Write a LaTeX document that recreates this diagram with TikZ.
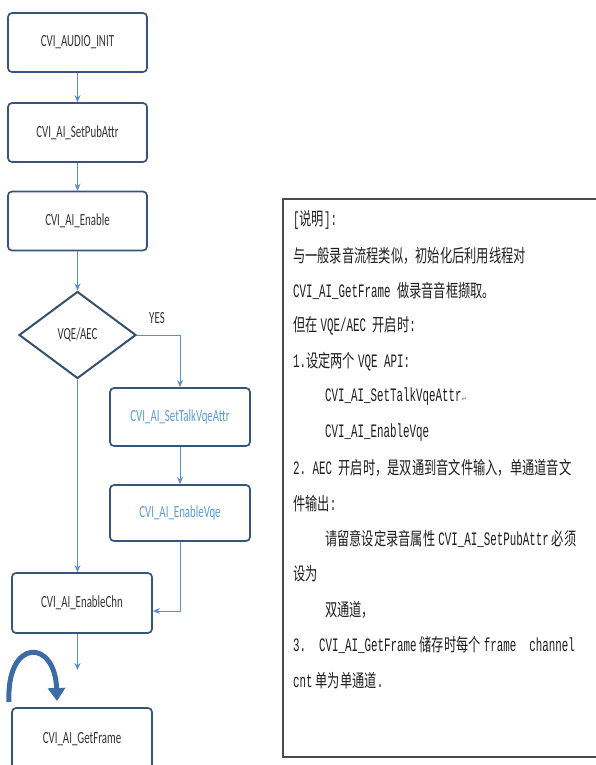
\documentclass[tikz,border=0pt]{standalone}
\usepackage{fontspec}
\setmainfont[FakeStretch=0.64]{Carlito}
\newfontfamily\cjkf[FakeStretch=0.68]{Noto Sans CJK SC}
\newfontfamily\monof[FakeStretch=0.57]{Liberation Mono}
\newfontfamily\symf{DejaVu Sans}
\usetikzlibrary{shapes.geometric,arrows.meta}
\newcommand\zhs[1]{{\cjkf\fontsize{18}{22}\selectfont #1}}
\newcommand\msp{\hspace{6.5pt}}
\newcommand\hsp{\hspace{3pt}}
\definecolor{boxline}{HTML}{36557C}
\definecolor{dialine}{HTML}{34506E}
\definecolor{arrowc}{HTML}{5B8FCB}
\definecolor{txt}{HTML}{333333}
\definecolor{bluetxt}{HTML}{5B9BD5}
\definecolor{loopc}{HTML}{3D6BA5}
\definecolor{tcol}{HTML}{1E1E1E}
\definecolor{tboxline}{HTML}{4A4A4A}
\tikzset{
  fbox/.style={draw=boxline, line width=1.7pt, rounded corners=4pt, minimum width=139pt, minimum height=59pt, inner sep=0pt, font=\fontsize{17}{20}\selectfont, text=txt},
  dia/.style={diamond, draw=dialine, line width=2pt, minimum width=117pt, minimum height=87pt, inner sep=0pt, font=\fontsize{17}{20}\selectfont, text=txt},
  arr/.style={draw=arrowc, line width=0.9pt, -{Stealth[length=7pt,width=6pt]}},
  loopar/.style={draw=loopc, line width=5pt, -{Triangle[length=13pt,width=17pt]}},
  tl/.style={anchor=west, inner sep=0pt, font=\monof\fontsize{19}{22}\selectfont, text=tcol},
  lbl/.style={inner sep=0pt, font=\fontsize{17}{20}\selectfont, text=txt}
}
\begin{document}
\begin{tikzpicture}[x=1pt,y=-1pt]
\useasboundingbox (0,0) rectangle (595,765);
% flowchart
\node[fbox] (init) at (77.5,42.5) {CVI\_AUDIO\_INIT};
\node[fbox] (pub) at (77.5,132.5) {CVI\_AI\_SetPubAttr};
\node[fbox] (en) at (77.5,221) {CVI\_AI\_Enable};
\node[dia] (dia) at (77.5,335) {VQE/AEC};
\node[fbox, text=bluetxt, minimum width=140pt, minimum height=58pt] (talk) at (180,417) {CVI\_AI\_SetTalkVqeAttr};
\node[fbox, text=bluetxt, minimum width=140pt, minimum height=56pt] (evqe) at (180,513) {CVI\_AI\_EnableVqe};
\node[fbox, minimum width=140pt, minimum height=60pt] (chn) at (82,603) {CVI\_AI\_EnableChn};
\node[fbox, minimum width=140pt, minimum height=62pt] (gf) at (82,739) {CVI\_AI\_GetFrame};
\node[lbl] (yes) at (157,318) {YES};
\draw[arr] (init) -- (pub);
\draw[arr] (pub) -- (en);
\draw[arr] (en) -- (dia);
\draw[arr] (dia.east) -| (talk.north);
\draw[arr] (talk) -- (evqe);
\draw[arr] (evqe.south) |- ([yshift=-8pt]chn.east);
\draw[arr] (dia.south) -- (dia.south |- chn.north);
\coordinate (ae) at (77.5,670);
\draw[arr] (ae |- chn.south) -- (ae);
\coordinate (cs) at (9,702);
\coordinate (ce) at (57,701);
\draw[loopar] (cs) .. controls (6,638) and (55,638) .. (ce);
% text box
\coordinate (tb1) at (283,199);
\coordinate (tb2) at (610,757);
\draw[draw=tboxline, line width=1.6pt] (tb1) rectangle (tb2);
\node[tl] (l0) at (293,220) {[\zhs{说明}]:};
\node[tl] (l1) at (293,255.4) {\zhs{与一般录音流程类似，初始化后利用线程对}};
\node[tl] (l2) at (293,290.8) {CVI\_AI\_GetFrame\msp\zhs{做录音音框撷取。}};
\node[tl] (l3) at (293,326.2) {\zhs{但在}\hsp VQE/AEC\msp\zhs{开启时}:};
\node[tl] (l4) at (293,361.6) {1.\zhs{设定两个}\hsp VQE\msp API:};
\node[tl] (l5) at (325,397) {CVI\_AI\_SetTalkVqeAttr{\symf\fontsize{7}{8}\selectfont\color{gray}↵}};
\node[tl] (l6) at (325,432.4) {CVI\_AI\_EnableVqe};
\node[tl] (l7) at (293,467.8) {2.\msp AEC\msp\zhs{开启时，是双通到音文件输入，单通道音文}};
\node[tl] (l8) at (293,503.2) {\zhs{件输出}:};
\node[tl] (l9) at (325,538.6) {\zhs{请留意设定录音属性}\hsp CVI\_AI\_SetPubAttr\hsp\zhs{必须}};
\node[tl] (l10) at (293,574) {\zhs{设为}};
\node[tl] (l11) at (325,609.4) {\zhs{双通道，}};
\node[tl] (l12) at (293,644.8) {3.\msp\msp CVI\_AI\_GetFrame\hsp\zhs{储存时每个}\hsp frame\msp\msp channel};
\node[tl] (l13) at (293,680.2) {cnt\hsp\zhs{单为单通道}.};
\end{tikzpicture}
\end{document}
